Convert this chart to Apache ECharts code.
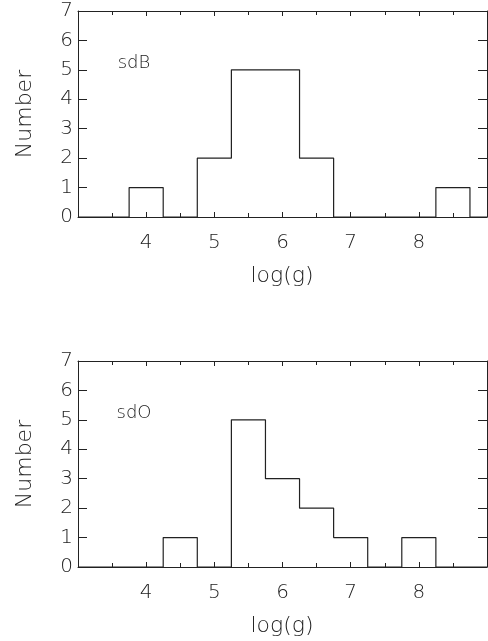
<!DOCTYPE html>
<html>
<head>
<meta charset="utf-8">
<script src="https://cdn.jsdelivr.net/npm/echarts@6/dist/echarts.min.js"></script>
<style>
  html, body { margin: 0; padding: 0; background: #fff; }
  #graph { width: 488px; height: 641px; }
</style>
</head>
<body>
<div id="graph"></div>
<script>
// histogram bins (centres in log(g), width 0.5)
var binWidth = 0.5;
var sdbCenters = [4.0, 5.0, 5.5, 6.0, 6.5, 8.5];
var sdbCounts  = [1, 2, 5, 5, 2, 1];
var sdoCenters = [4.5, 5.5, 6.0, 6.5, 7.0, 8.0];
var sdoCounts  = [1, 5, 3, 2, 1, 1];
var xTicks = [4, 5, 6, 7, 8];
var yTicks = [0, 1, 2, 3, 4, 5, 6, 7];

var xMin = 3, xMax = 9;
var font = 'DejaVu Sans';
var ink = '#222';

// step outline points: [left edge, count], back to zero where a gap follows
function stepPoints(centers, counts) {
    var pts = [[xMin, 0]];
    for (var i = 0; i < centers.length; i++) {
        var left = centers[i] - binWidth / 2;
        var right = centers[i] + binWidth / 2;
        pts.push([left, counts[i]]);
        var next = i + 1 < centers.length ? centers[i + 1] - binWidth / 2 : null;
        if (next === null || next > right + 1e-9) pts.push([right, 0]);
    }
    pts.push([xMax, 0]);
    return pts;
}

var grids = [
    { left: 78, top: 11, width: 409, height: 206, outerBoundsMode: 'none' },
    { left: 78, top: 361, width: 409, height: 206, outerBoundsMode: 'none' }
];

// fresh objects for every axis; axis names are drawn as graphic text below
function xAxis(gi, pos) {
    return {
        type: 'value', gridIndex: gi, min: xMin, max: xMax, interval: 1, position: pos,
        splitLine: { show: false },
        axisLine: { show: true, onZero: false, lineStyle: { color: ink, width: 1 } },
        axisTick: { show: true, inside: true, length: 5, lineStyle: { color: ink } },
        minorTick: { show: true, splitNumber: 2, length: 4, lineStyle: { color: ink } },
        axisLabel: {
            show: pos === 'bottom', margin: 16, fontFamily: font, fontSize: 20, color: ink, fontWeight: 200,
            formatter: function (v) { return xTicks.indexOf(v) >= 0 ? String(v) : ''; }
        }
    };
}

function yAxis(gi, pos) {
    return {
        type: 'value', gridIndex: gi, min: yTicks[0], max: yTicks[yTicks.length - 1], interval: 1,
        position: pos,
        splitLine: { show: false },
        axisLine: { show: true, onZero: false, lineStyle: { color: ink, width: 1 } },
        axisTick: { show: true, inside: true, length: 9, lineStyle: { color: ink } },
        axisLabel: {
            show: pos === 'left', interval: 0, margin: 5,
            fontFamily: font, fontSize: 20, color: ink, fontWeight: 200
        }
    };
}

function label(text, x, y, size, rot) {
    return {
        type: 'text', x: x, y: y, rotation: rot || 0,
        style: {
            text: text, font: '200 ' + size + 'px "DejaVu Sans"', fill: ink,
            align: 'center', verticalAlign: 'middle'
        }
    };
}

var chart = echarts.init(document.getElementById('graph'));

chart.setOption({
    animation: false,
    backgroundColor: '#fff',
    grid: grids,
    xAxis: [xAxis(0, 'bottom'), xAxis(0, 'top'), xAxis(1, 'bottom'), xAxis(1, 'top')],
    yAxis: [yAxis(0, 'left'), yAxis(0, 'right'), yAxis(1, 'left'), yAxis(1, 'right')],
    graphic: [
        label('sdB', 134, 63, 18),
        label('sdO', 134, 413, 18),
        label('log(g)', 282, 276, 22),
        label('log(g)', 282, 626, 22),
        label('Number', 25, 114, 22, Math.PI / 2),
        label('Number', 25, 464, 22, Math.PI / 2)
    ],
    series: [
        {
            name: 'sdB', type: 'line', xAxisIndex: 0, yAxisIndex: 0, step: 'end',
            symbol: 'none', lineStyle: { color: ink, width: 1.2 },
            data: stepPoints(sdbCenters, sdbCounts)
        },
        {
            name: 'sdO', type: 'line', xAxisIndex: 2, yAxisIndex: 2, step: 'end',
            symbol: 'none', lineStyle: { color: ink, width: 1.2 },
            data: stepPoints(sdoCenters, sdoCounts)
        }
    ]
});
</script>
</body>
</html>
